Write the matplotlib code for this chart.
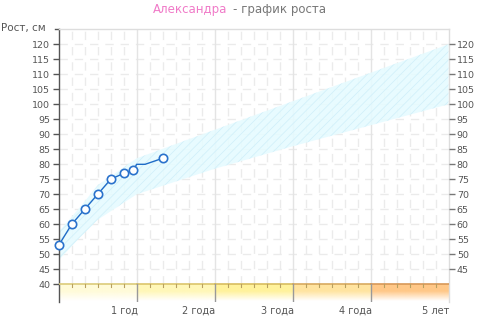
import matplotlib
matplotlib.use("Agg")
import matplotlib.pyplot as plt
import numpy as np
from matplotlib.colors import to_rgb

# ---------------- data ----------------
name = "Александра"
title_rest = "- график роста"
y_label = "Рост, см"

# measured points (months, cm)
meas_months = [0, 2, 4, 6, 8, 10, 11.5, 16]
meas_height = [53, 60, 65, 70, 75, 77, 78, 82]
# line path (includes unmarked vertices)
line_months = [0, 2, 4, 6, 8, 10, 11.5, 12, 13.3, 16]
line_height = [53, 60, 65, 70, 75, 77, 78, 80, 80, 82]

# normal range band (years, cm)
band_years = [0, 0.25, 0.5, 1, 2, 3, 4, 5]
band_low = [48, 55, 61.5, 70, 78.5, 86, 93, 100]
band_high = [57.5, 65, 73, 82, 91.5, 101, 110.5, 120]

year_ticks = [1, 2, 3, 4, 5]
year_labels = ["1 год", "2 года", "3 года", "4 года", "5 лет"]
left_ticks = list(range(40, 121, 5))
right_ticks = list(range(45, 121, 5))
seg_colors = ["#fffbd8", "#fff7b8", "#fff29c", "#ffe4a0", "#ffc888"]
seg_line_colors = ["#dccb7a", "#dcc56c", "#d8bd60", "#d8aa60", "#d89858"]

plt.rcParams["hatch.linewidth"] = 0.6

# ---------------- figure ----------------
W, H = 480, 328
fig = plt.figure(figsize=(W / 100, H / 100), dpi=100)
L, R, T, B = 58.7, 448.5, 29.3, 302.3
ax = fig.add_axes([L / W, (H - B) / H, (R - L) / W, (B - T) / H])
ax.set_xlim(0, 5)
ax.set_ylim(34, 125)

grid_c = "#ebebeb"
# horizontal dashed grid
for y in range(45, 125, 5):
    ax.axhline(y, color=grid_c, lw=1, dashes=(6, 5), zorder=0)
# vertical grid every 2 months
for m in range(1, 30):
    xv = m / 6
    if m % 6 == 0:
        ax.plot([xv, xv], [40, 125], color="#e4e4e4", lw=1, zorder=0)
    else:
        ax.plot([xv, xv], [40, 125], color=grid_c, lw=1, dashes=(6, 5), zorder=0)

# normal range band
ax.fill_between(band_years, band_low, band_high, facecolor="#e6fbff",
                edgecolor="none", alpha=0.9, zorder=1)
ax.fill_between(band_years, band_low, band_high, facecolor="none",
                edgecolor="#d2f0fa", hatch="////", lw=0, zorder=1)

# bottom coloured band
nx, ny = 500, 60
img = np.ones((ny, nx, 4))
xs = np.linspace(0, 5, nx, endpoint=False)
for i, xv in enumerate(xs):
    seg = min(int(xv), 4)
    img[:, i, :3] = to_rgb(seg_colors[seg])
fade = np.clip(np.linspace(1.7, -0.1, ny), 0, 1)
img[:, :, 3] = fade[:, None]
ax.imshow(img, extent=[0, 5, 34, 40], aspect="auto", origin="upper", zorder=2)
for s in range(5):
    ax.plot([s, s + 1], [40, 40], color=seg_line_colors[s], lw=1.2, zorder=3)
for m in range(1, 30):
    xv = m / 6
    if m % 6 == 0:
        ax.plot([xv, xv], [34, 40], color="#999999", lw=1, zorder=3)
    else:
        ax.plot([xv, xv], [39.0, 40], color="#b8a060", lw=0.8, zorder=3)

# data
lx = [m / 12 for m in line_months]
mx = [m / 12 for m in meas_months]
ax.plot(lx, line_height, color="#1f6cc7", lw=1, zorder=4)
ax.plot(mx, meas_height, ls="none", marker="o", ms=6, mfc="white",
        mec="#2a72cc", mew=1.2, zorder=5, clip_on=False)

# spines
for s in ["top", "right"]:
    ax.spines[s].set_color("#dddddd")
    ax.spines[s].set_linewidth(1)
ax.spines["bottom"].set_visible(False)
ax.spines["left"].set_color("#555555")
ax.spines["left"].set_linewidth(1)

ax.set_yticks(left_ticks)
ax.set_yticklabels([str(v) for v in left_ticks])
ax.tick_params(axis="y", which="both", direction="out", length=4, width=1,
               color="#555555", labelcolor="#555555", labelsize=6.8, pad=2)
ax.set_xticks([])

axr = ax.twinx()
axr.set_ylim(34, 125)
axr.set_yticks(right_ticks)
axr.set_yticklabels([str(v) for v in right_ticks])
axr.tick_params(axis="y", direction="out", length=4, width=1, color="#777777",
                labelcolor="#555555", labelsize=6.8, pad=2)
for s in axr.spines.values():
    s.set_visible(False)

# top-left axis title with its tick
ax.plot([-0.05, 0], [125, 125], color="#555555", lw=1, clip_on=False)
fig.text(1 / W, (H - 28) / H, y_label, ha="left", va="center",
         fontsize=7.5, color="#555555")

# x labels right aligned at year positions
for yv, lab in zip(year_ticks, year_labels):
    fig.text((L + yv * (R - L) / 5 + 1) / W, (H - 310.5) / H, lab,
             ha="right", va="center", fontsize=7, color="#555555")

# title
fig.text(227 / W, (H - 9) / H, name, ha="right", va="center", fontsize=8.5,
         color="#f07ac8")
fig.text(233 / W, (H - 9) / H, title_rest, ha="left", va="center",
         fontsize=8.5, color="#777777")

fig.savefig("out.png", dpi=100)
